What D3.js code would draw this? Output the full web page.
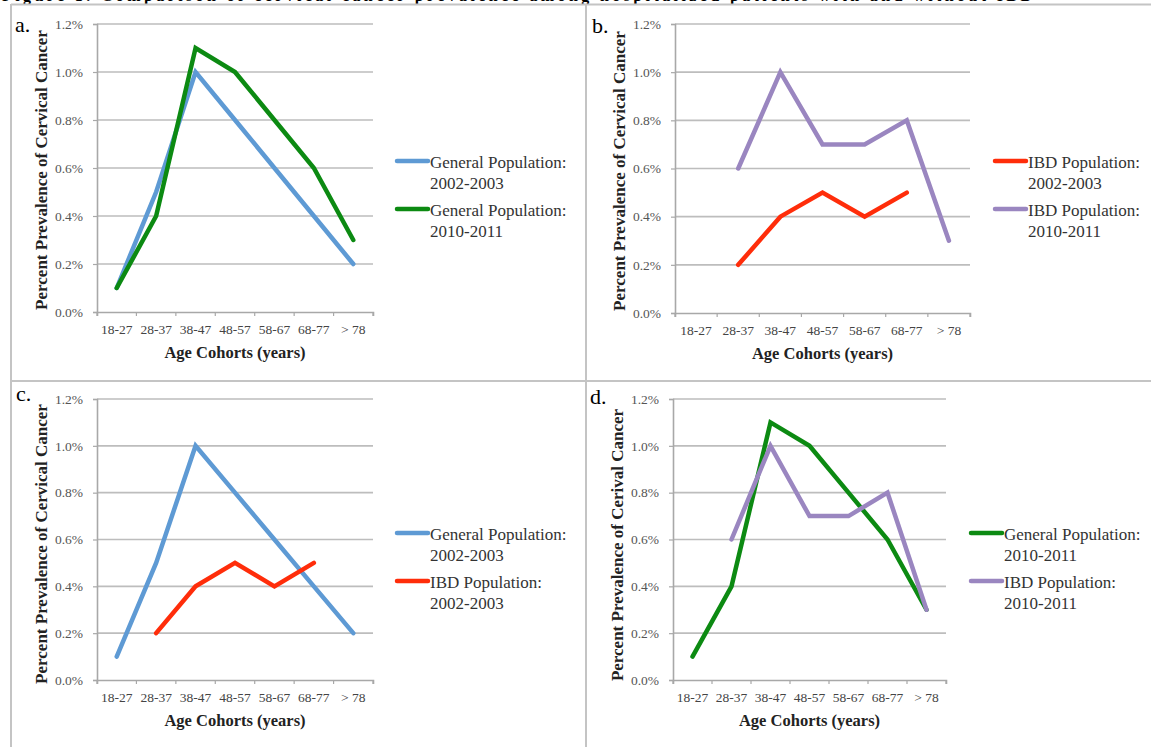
<!DOCTYPE html>
<html>
<head>
<meta charset="utf-8">
<script src="https://cdn.jsdelivr.net/npm/d3@7/dist/d3.min.js"></script>
<style>
  html, body { margin: 0; padding: 0; background: #fff; }
  svg { display: block; }
</style>
</head>
<body>
<svg id="chart" width="1151" height="747"></svg>
<script>
// ---------- DATA ----------
const categories = ["18-27", "28-37", "38-47", "48-57", "58-67", "68-77", "> 78"];
const yTicks = [0, 0.002, 0.004, 0.006, 0.008, 0.010, 0.012];

const generalPop2002 = [0.001, 0.005, 0.010, 0.008, 0.006, 0.004, 0.002];
const generalPop2010 = [0.001, 0.004, 0.011, 0.010, 0.008, 0.006, 0.003];
const ibdPop2002     = [null, 0.002, 0.004, 0.005, 0.004, 0.005, null];
const ibdPop2010     = [null, 0.006, 0.010, 0.007, 0.007, 0.008, 0.003];

const seriesLabels = {
  gen2002: ["General Population:", "2002-2003"],
  gen2010: ["General Population:", "2010-2011"],
  ibd2002: ["IBD Population:", "2002-2003"],
  ibd2010: ["IBD Population:", "2010-2011"]
};

const titleText = "Figure 1. Comparison of cervical cancer prevalence among hospitalized patients with and without IBD";
const xTitle = "Age Cohorts (years)";
const yTitleMain = "Percent Prevalence of Cervical Cancer";
const yTitleD = "Percent Prevalence of Cerival Cancer";

// ---------- STYLE ----------
const colors = {
  gen2002: "#5e9ad4",
  gen2010: "#0c8a12",
  ibd2002: "#ff2d0a",
  ibd2010: "#9a86c0"
};
const serif = "'Liberation Serif', 'DejaVu Serif', 'Times New Roman', serif";

const svg = d3.select("#chart");

// title strip (cropped at the top edge, as in the source image)
svg.append("text")
  .attr("x", 2).attr("y", 1)
  .attr("font-family", serif).attr("font-weight", "bold").attr("font-size", 16)
  .attr("textLength", 1030).attr("lengthAdjust", "spacing")
  .attr("fill", "#000")
  .text(titleText);

// panel borders
const borderColor = "#c4c4c4";
svg.append("line").attr("x1", 11).attr("x2", 1151).attr("y1", 4.5).attr("y2", 4.5)
  .attr("stroke", borderColor).attr("stroke-width", 2);
svg.append("line").attr("x1", 11).attr("x2", 1151).attr("y1", 381).attr("y2", 381)
  .attr("stroke", borderColor).attr("stroke-width", 2);
svg.append("line").attr("x1", 11).attr("x2", 11).attr("y1", 4).attr("y2", 747)
  .attr("stroke", borderColor).attr("stroke-width", 2);
svg.append("line").attr("x1", 586).attr("x2", 586).attr("y1", 4).attr("y2", 747)
  .attr("stroke", borderColor).attr("stroke-width", 2);

// ---------- PANELS ----------
const panels = [
  { letter: "a.", lx: 15, ly: 32, x0: 97, x1: 373, yTop: 24, yBot: 312, yTitle: yTitleMain, yTitleX: 47, yTitleY: 170,
    series: [["gen2002", generalPop2002], ["gen2010", generalPop2010]],
    legX: 397, legY: [161, 209] },
  { letter: "b.", lx: 592, ly: 33, x0: 675, x1: 970, yTop: 24, yBot: 313, yTitle: yTitleMain, yTitleX: 625, yTitleY: 171,
    series: [["ibd2002", ibdPop2002], ["ibd2010", ibdPop2010]],
    legX: 995, legY: [161, 209] },
  { letter: "c.", lx: 16, ly: 401, x0: 97, x1: 373, yTop: 399, yBot: 680, yTitle: yTitleMain, yTitleX: 47, yTitleY: 544,
    series: [["gen2002", generalPop2002], ["ibd2002", ibdPop2002]],
    legX: 397, legY: [533, 581] },
  { letter: "d.", lx: 590, ly: 404, x0: 673, x1: 946, yTop: 399, yBot: 680, yTitle: yTitleD, yTitleX: 623, yTitleY: 545,
    series: [["gen2010", generalPop2010], ["ibd2010", ibdPop2010]],
    legX: 971, legY: [533, 581] }
];

panels.forEach(p => {
  const g = svg.append("g");
  const x = d3.scaleBand().domain(categories).range([p.x0, p.x1]).padding(0);
  const y = d3.scaleLinear().domain([0, 0.012]).range([p.yBot, p.yTop]);

  // gridlines
  g.append("g").selectAll("line").data(yTicks.filter(t => t > 0)).join("line")
    .attr("x1", p.x0).attr("x2", p.x1)
    .attr("y1", d => y(d)).attr("y2", d => y(d))
    .attr("stroke", "#bdbdbd").attr("stroke-width", 1.6);

  // y axis
  const yAxis = d3.axisLeft(y).tickValues(yTicks).tickFormat(d3.format(".1%")).tickSize(4).tickPadding(10);
  const ya = g.append("g").attr("transform", `translate(${p.x0},0)`).call(yAxis);
  ya.attr("font-family", serif);
  ya.select(".domain").attr("stroke", "#a8a8a8").attr("stroke-width", 1.6);
  ya.selectAll(".tick line").attr("stroke", "#a8a8a8").attr("stroke-width", 1.2);
  ya.selectAll(".tick text").attr("font-family", serif).attr("font-size", 13.5).attr("fill", "#555");

  // x axis
  const xAxis = d3.axisBottom(x).tickSize(4).tickPadding(8);
  const xa = g.append("g").attr("transform", `translate(0,${p.yBot})`).call(xAxis);
  xa.attr("font-family", serif);
  xa.select(".domain").attr("stroke", "#a8a8a8").attr("stroke-width", 1.6);
  xa.selectAll(".tick line").remove();
  xa.selectAll(".tick text").attr("font-family", serif).attr("font-size", 13.5).attr("fill", "#444");
  // boundary ticks between categories
  const bounds = categories.map(c => x(c)).concat([p.x1]);
  xa.append("g").selectAll("line").data(bounds).join("line")
    .attr("x1", d => d).attr("x2", d => d).attr("y1", 0).attr("y2", 4)
    .attr("stroke", "#a8a8a8").attr("stroke-width", 1.2);

  // axis titles
  g.append("text")
    .attr("x", (p.x0 + p.x1) / 2).attr("y", p.yBot + 46)
    .attr("text-anchor", "middle")
    .attr("font-family", serif).attr("font-weight", "bold").attr("font-size", 16.5).attr("fill", "#222")
    .text(xTitle);
  g.append("text")
    .attr("transform", `translate(${p.yTitleX},${p.yTitleY}) rotate(-90)`)
    .attr("text-anchor", "middle")
    .attr("font-family", serif).attr("font-weight", "bold").attr("font-size", 17).attr("fill", "#222")
    .text(p.yTitle);

  // panel letter
  g.append("text")
    .attr("x", p.lx).attr("y", p.ly)
    .attr("font-family", serif).attr("font-size", 22).attr("fill", "#000")
    .text(p.letter);

  // lines
  const line = d3.line()
    .defined(d => d.v != null)
    .x(d => x(d.c) + x.bandwidth() / 2)
    .y(d => y(d.v));
  p.series.forEach(([key, vals]) => {
    const pts = categories.map((c, i) => ({ c, v: vals[i] }));
    g.append("path").datum(pts)
      .attr("d", line)
      .attr("fill", "none")
      .attr("stroke", colors[key])
      .attr("stroke-width", 4.5)
      .attr("stroke-linejoin", "miter")
      .attr("stroke-linecap", "round");
  });

  // legend
  p.series.forEach(([key], i) => {
    const ly = p.legY[i];
    g.append("line")
      .attr("x1", p.legX).attr("x2", p.legX + 31)
      .attr("y1", ly).attr("y2", ly)
      .attr("stroke", colors[key]).attr("stroke-width", 4.5).attr("stroke-linecap", "round");
    const t = g.append("text")
      .attr("font-family", serif).attr("font-size", 17).attr("fill", "#333");
    seriesLabels[key].forEach((s, j) => {
      t.append("tspan").attr("x", p.legX + 33).attr("y", ly + 7 + j * 21).text(s);
    });
  });
});
</script>
</body>
</html>
